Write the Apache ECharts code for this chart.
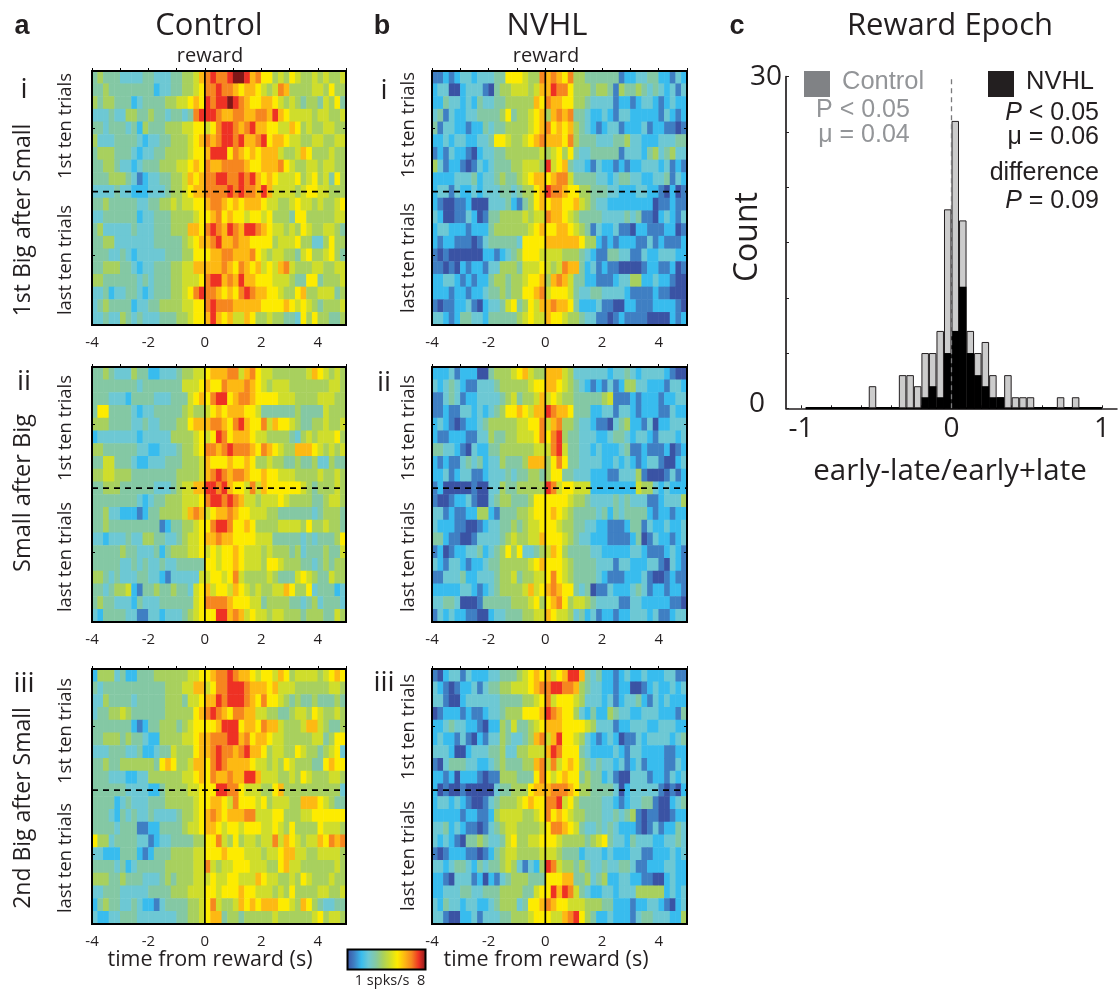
<!DOCTYPE html>
<html><head><meta charset="utf-8"><style>html,body{margin:0;padding:0;background:#fff}#c{width:1118px;height:989px}</style>
<script src="https://cdn.jsdelivr.net/npm/echarts@6/dist/echarts.min.js"></script></head><body><div id="c"></div>
<script>
// Rates per 0.2 s bin, read by eye; one hex-like character per cell (0 = 1 spks/s ... b = 8 spks/s).
const controlBigFirst = [
"45444 33334 43334 45568 9a99a bba89 77565 76556 56556",
"44544 44444 42334 45567 99a99 87887 65698 55556 65755",
"54554 44234 44455 66787 a9aab a9877 88765 65455 46574",
"33343 35544 54434 4349a aa988 99889 98a87 66665 66556",
"44344 43425 44455 56677 679aa 989a8 87766 87565 56655",
"53334 44432 33445 55678 989aa 9a889 a7887 66556 65566",
"45554 44323 34455 55677 8aaa7 98787 88865 56875 55655",
"44554 33234 44555 66787 98899 99877 88897 65566 56655",
"44455 54312 33445 56878 99aa9 9a9a8 78766 67567 56475",
"33334 33222 33345 56788 9999a 9a998 a8666 65677 66555",
"44544 44433 44556 56677 89987 87888 76655 67665 65567",
"33444 44423 34445 55567 78978 77677 67555 47755 55566",
"45333 33433 34445 55887 9a98a 98aa9 87665 65765 56654",
"44553 33333 34444 45678 89a88 98877 77566 67553 35755",
"44433 43233 33344 45577 78899 88897 65665 54675 56754",
"44555 44323 34445 56688 88898 79878 67689 65556 65566",
"55444 44434 34445 56667 9aa89 8a887 77666 54477 45556",
"33423 34432 34445 5679a 99878 79a98 87765 57855 66645",
"34544 44233 44555 56677 9a999 88888 77778 76765 45556",
"33433 54343 33444 55677 8a878 66875 56554 43757 55445"];
const nvhlBigFirst = [
"11212 33233 34477 76559 89879 55444 44412 23344 22132",
"23300 23331 04556 66568 8a997 55545 54154 45434 32313",
"22433 23243 34455 55587 98877 55433 33122 12332 12322",
"34132 23344 44574 55678 58989 44322 32133 22222 13212",
"41332 21224 34455 55678 97878 54321 23312 22312 21101",
"22323 32233 47765 56789 88879 54443 33445 33222 33344",
"12132 21023 34455 55556 56757 43344 44413 33245 34533",
"53122 10132 34445 56665 a6784 33213 22121 22333 23121",
"22223 33423 34544 56788 78996 44443 32344 33223 34132",
"23313 22323 33443 45578 a9987 75544 43322 23322 10201",
"21001 12000 33342 14578 78877 86543 32222 22220 11211",
"32001 13201 44555 56566 98876 54444 33334 34110 23213",
"23322 21222 45555 55678 77887 65413 22311 02211 12201",
"21221 11013 44444 37777 88888 87552 12122 21131 21112",
"10100 00002 21234 57776 66655 54321 14433 11322 33322",
"11010 21221 33555 46667 65698 84231 21100 00122 11201",
"22332 12122 45545 56778 58986 44221 11233 55223 22100",
"22212 21223 44545 57789 67776 43344 33332 11112 11000",
"10112 23102 33467 45768 89887 42223 11002 21112 22210",
"33212 44332 44444 56766 87765 54331 10121 11100 00212"];
const controlSmall = [
"44543 33544 22333 45566 78889 96897 66555 55568 76565",
"44444 44434 44444 46667 87798 88987 65666 55555 55665",
"44433 32444 43334 44678 79aa7 89987 77766 65555 66655",
"47744 44323 34444 45655 67878 88776 44444 45444 46555",
"55544 44334 33444 55788 89987 9a877 96877 65445 56556",
"23333 33323 33335 55567 67a97 88876 65555 43565 66675",
"55444 44433 22333 45567 9989a 99987 98765 58887 65656",
"44664 44322 33344 45556 87778 77875 56554 45445 33544",
"55665 55444 44444 55556 89a98 99877 87766 65555 65565",
"44555 44444 43334 56688 aa9a8 77696 87777 77654 55565",
"44444 44432 34455 56667 9aa9a 98665 66676 55554 45665",
"44533 22212 44555 56898 67889 87766 65544 44443 45554",
"44544 44444 44124 45567 79aa9 77875 55566 66575 56554",
"33233 34335 54433 45667 88988 77776 66444 44343 44457",
"44444 54433 34245 55667 67677 87666 56555 45344 45446",
"44444 33434 33433 44444 77677 87666 57765 55443 45455",
"55434 33344 33213 33336 67767 96555 56544 46765 44655",
"44345 56214 45445 44367 86776 87656 55668 75573 44423",
"45443 33243 33444 44467 99998 77766 45555 44345 34443",
"32444 43311 33233 34567 77aa8 98676 65665 55455 54465"];
const nvhlSmall = [
"22231 22200 45556 78655 88865 33333 32334 32333 32100",
"32343 21133 34555 55677 88765 43212 13125 53322 21332",
"11343 12233 33456 45568 67655 44444 56111 21222 12233",
"11211 33232 34577 87688 a9887 44422 33133 21222 11322",
"23210 12234 55555 66779 68955 43321 10345 22130 22333",
"21122 21133 54455 66679 79a54 43332 23443 23321 33323",
"44332 10322 44555 55566 69a64 43323 22234 11211 12012",
"21211 34342 33544 45888 57974 43333 22323 21233 10023",
"22312 33112 33343 44554 57744 33322 21133 35100 01312",
"12000 00100 33544 55555 a9677 66622 22222 26553 23222",
"10012 23100 34554 44577 77776 55433 33434 33311 23335",
"33121 12255 21444 55677 78765 44443 42434 44421 22122",
"32221 10012 33445 45667 77655 44332 21112 44132 23223",
"44211 00133 33456 55668 77765 43322 21111 24013 22123",
"12012 23342 34575 73345 68754 44433 22222 33211 12321",
"32133 21223 44555 55678 77765 44443 33133 22233 10321",
"11333 42233 34556 45566 79765 44443 21112 22310 01211",
"22222 33212 34555 56867 89877 43401 13222 34312 21221",
"33443 00014 44445 55675 78975 66543 33311 33222 22110",
"13232 21100 23344 45566 87665 34231 22122 33323 11233"];
const controlBigSecond = [
"25553 42244 45555 55667 7899a 98876 77687 56666 56787",
"43444 44444 44455 56688 6799a aa988 87866 65555 55665",
"33544 44344 44455 54667 88a9a aa987 97765 45445 44454",
"34455 65444 44455 55578 9a987 99886 65544 56657 65565",
"44444 44212 44555 45677 778aa a7887 98865 55688 65445",
"44555 45443 22555 56678 8999a a8978 87665 55556 64577",
"33344 43342 23446 55578 89a99 89a88 75665 57655 45673",
"44544 55555 54787 55688 79a98 88876 65657 65554 47877",
"44433 32233 55555 56678 79889 88aa8 66655 65765 55665",
"44444 43333 22455 55667 77aa9 97666 55785 55555 55553",
"44442 34333 44455 55567 78876 97776 75666 55888 76544",
"44432 43433 43333 45567 89878 88996 66775 55667 77777",
"44443 44411 22444 45667 88767 76777 66765 75555 76665",
"75534 44433 12334 44455 77965 75665 66968 76566 87989",
"33222 44421 24445 55566 77787 77666 56678 86655 66665",
"44443 42344 44455 55566 96566 77766 65578 66555 55565",
"55544 54443 33454 55566 67667 76668 76655 65765 55655",
"33444 33333 44445 55666 77677 78776 66565 75555 66556",
"24544 33432 21344 44556 79655 68787 88877 65875 43344",
"32233 44433 33333 44556 78845 54555 55655 55556 75665"];
const nvhlBigSecond = [
"10233 13222 33444 56787 8678a a8434 22123 22322 23311",
"32101 22313 44556 66789 9aa99 85433 22122 00123 22323",
"33100 23333 33444 45567 96777 65333 23123 34213 23222",
"01222 12112 33455 57778 a9877 53242 25433 22333 22214",
"22343 32210 22546 44567 88877 77653 33122 33322 33322",
"23221 31021 33543 34589 68a77 65321 23201 13233 33234",
"33320 02333 44533 55666 8a977 74322 22321 33222 21122",
"10344 43322 34544 45589 69678 75434 33231 23122 21132",
"22120 22210 11555 44479 76787 74544 23100 33312 21323",
"20100 10000 03445 55788 89998 75544 44302 33333 10102",
"23323 21001 34555 67877 99a67 54444 33212 33441 00234",
"22222 12211 25666 65567 97876 55444 33434 51011 00122",
"33423 21101 34566 55556 79987 64334 34322 21013 12243",
"32321 04454 33467 55667 77655 55456 74332 43332 23343",
"10122 21101 24566 55556 66544 42333 23222 33112 22323",
"33234 43243 44565 31325 a9655 45433 43344 31122 23322",
"22103 33120 21345 55444 77788 44534 52233 22110 02322",
"22333 44334 44555 54467 7a8a9 64322 33233 35555 52323",
"32433 23322 34555 34778 98776 66555 44222 12233 21023",
"33100 22313 33445 55677 76689 a7542 23222 13443 33225"];

const timeBins = Array.from({length:45},(_, i)=>(-4+0.2*i).toFixed(1));
const trialRows = Array.from({length:20},(_, i)=>i);
const timeTicks = [-4,-3,-2,-1,0,1,2,3,4,5];
const timeLabels = [-4,-2,0,2,4];

// Histogram: bin centres and counts
const histBins =   [-0.525,-0.325,-0.275,-0.225,-0.175,-0.125,-0.075,-0.025,0.025,0.075,0.125,0.175,0.225,0.275,0.325,0.375,0.425,0.475,0.525,0.725,0.825];
const controlHist = [2,3,3,2,5,5,7,18,26,17,7,5,6,3,1,3,1,1,1,1,1];
const nvhlHist =    [0,0,0,0,1,2,1,5,7,11,5,3,2,1,1,0,0,0,0,0,0];

const palette = ['#3a53a4','#3f7fc3','#38bcee','#6dc8d4','#84c8a4','#a8d05e','#cfdd2c','#fdeb00','#fdb913','#f6861f','#ee3124','#7f1718'];
const ink = '#231f20';
const SANS = '"Open Sans"', HELV = '"Liberation Sans"';

function toCells(rows){
  const out=[];
  rows.forEach((row,r)=>{
    row.replace(/ /g,'').split('').forEach((ch,c)=>{
      out.push([c,r,1+parseInt(ch,16)*7/11]);
    });
  });
  return out;
}

const panels = [
 {rows:controlBigFirst,  left:92,  top:71,  w:254,h:254},
 {rows:nvhlBigFirst,     left:432, top:71,  w:255,h:254},
 {rows:controlSmall,     left:92,  top:367, w:254,h:255},
 {rows:nvhlSmall,        left:432, top:367, w:255,h:255},
 {rows:controlBigSecond, left:92,  top:669, w:254,h:255},
 {rows:nvhlBigSecond,    left:432, top:669, w:255,h:255}
];

const grid=[],xAxis=[],yAxis=[],series=[],heatIdx=[];
panels.forEach((p,g)=>{
  grid.push({left:p.left,top:p.top,width:p.w,height:p.h,show:true,borderColor:'#000',borderWidth:2,backgroundColor:'transparent',z:3});
  const xi=xAxis.length, yi=yAxis.length;
  xAxis.push({type:'category',gridIndex:g,data:timeBins,show:false});
  xAxis.push({type:'value',gridIndex:g,min:-4,max:5,interval:1,position:'bottom',z:5,
    axisLine:{show:false},splitLine:{show:false},
    axisTick:{show:true,inside:true,length:3,lineStyle:{color:'#000',width:1},customValues:timeTicks},
    axisLabel:{show:true,margin:10,fontFamily:SANS,fontSize:15,color:ink,customValues:timeLabels}});
  yAxis.push({type:'category',gridIndex:g,data:trialRows,inverse:true,show:false});
  ['left','right'].forEach(pos=>{
    yAxis.push({type:'value',gridIndex:g,min:0,max:20,inverse:true,position:pos,z:5,
      axisLine:{show:false},splitLine:{show:false},axisLabel:{show:false},
      axisTick:{show:true,inside:true,length:3,lineStyle:{color:'#000',width:1},customValues:[4.5,14.5]}});
  });
  heatIdx.push(series.length);
  series.push({type:'heatmap',xAxisIndex:xi,yAxisIndex:yi,data:toCells(p.rows),z:2,silent:true,progressive:0,animation:false,itemStyle:{borderWidth:0}});
  series.push({type:'line',xAxisIndex:xi+1,yAxisIndex:yi+1,data:[[0,0],[0,20]],showSymbol:false,symbol:'none',z:6,silent:true,animation:false,lineStyle:{color:'#000',width:1.7}});
  series.push({type:'line',xAxisIndex:xi+1,yAxisIndex:yi+1,data:[[-4,9.5],[5,9.5]],showSymbol:false,symbol:'none',z:6,silent:true,animation:false,lineStyle:{color:'#000',width:1.6,type:[6,5]}});
});

// Histogram panel
const hg=grid.length;
grid.push({left:786,top:76.7,width:331,height:331.6,show:false});
const hx=xAxis.length, hy=yAxis.length;
xAxis.push({type:'value',gridIndex:hg,min:-1.1,max:1.1,interval:0.1,position:'bottom',
  axisLine:{show:true,onZero:false,lineStyle:{color:ink,width:1.5}},splitLine:{show:false},
  axisTick:{show:true,inside:true,length:3,lineStyle:{color:ink,width:1},customValues:[-1,-0.8,-0.6,-0.4,-0.2,0,0.2,0.4,0.6,0.8,1]},
  axisLabel:{show:true,margin:7,fontFamily:SANS,fontSize:28,color:ink,customValues:[-1,0,1]}});
yAxis.push({type:'value',gridIndex:hg,min:0,max:30,interval:5,position:'left',
  axisLine:{show:true,onZero:false,lineStyle:{color:ink,width:1.7}},splitLine:{show:false},
  axisTick:{show:true,inside:true,length:3,lineStyle:{color:ink,width:1}},
  axisLabel:{show:true,margin:4,fontFamily:SANS,fontSize:28,color:ink,customValues:[0,30],
    formatter:v=>v===0?'{z|0}':String(v),rich:{z:{fontFamily:SANS,fontSize:28,color:ink,padding:[0,17,9,0]}}}});
series.push({type:'line',xAxisIndex:hx,yAxisIndex:hy,data:[[-0.97,0],[1,0]],symbol:'none',showSymbol:false,z:1,silent:true,animation:false,lineStyle:{color:'#000',width:2.5}});
series.push({type:'bar',name:'Control',xAxisIndex:hx,yAxisIndex:hy,data:histBins.map((b,i)=>[b,controlHist[i]]),barWidth:7.5,barGap:'-100%',animation:false,silent:true,z:2,
  itemStyle:{color:'#cccccc',borderColor:ink,borderWidth:1}});
series.push({type:'bar',name:'NVHL',xAxisIndex:hx,yAxisIndex:hy,data:histBins.map((b,i)=>[b,nvhlHist[i]]),barWidth:7.5,barGap:'-100%',animation:false,silent:true,z:3,
  itemStyle:{color:'#000',borderWidth:0}});
series.push({type:'line',xAxisIndex:hx,yAxisIndex:hy,data:[[0,0],[0,30]],symbol:'none',showSymbol:false,z:5,silent:true,animation:false,lineStyle:{color:'#7a7a7c',width:1.3,type:[5,4]}});

// Text
function T(text,x,y,size,o={}){
  return {type:'text',x,y,rotation:o.rot?Math.PI/2:0,z:20,silent:true,style:{text,x:0,y:0,fontSize:size,fontFamily:o.f||SANS,fontWeight:o.b?'bold':'normal',fill:o.c||ink,
    align:o.a||'center',verticalAlign:'middle',rich:{i:{fontStyle:'italic',fontSize:size,fontFamily:o.f||SANS,fill:o.c||ink}}}};
}
const g=[
 T('a',22,27,27,{b:1,f:HELV}),T('b',382,27,27,{b:1,f:HELV}),T('c',737,27,27,{b:1,f:HELV}),
 T('Control',209,26,31),T('NVHL',547,26,31),T('Reward Epoch',950,26,31),
 T('reward',210,56,20),T('reward',546,56,20),
 T('i',24,90,28),T('ii',24,382,28),T('iii',24,684,28),
 T('i',384,91,28),T('ii',384,383,28),T('iii',384,683,28),
 T('1st Big after Small',23,220,23,{rot:1}),T('Small after Big',23,493,23.5,{rot:1}),T('2nd Big after Small',23,808,23,{rot:1}),
 T('1st ten trials',66,126,18.4,{rot:1}),T('last ten trials',66,260,18.4,{rot:1}),
 T('1st ten trials',66,428,18.4,{rot:1}),T('last ten trials',66,557,18.4,{rot:1}),
 T('1st ten trials',66,731,18.4,{rot:1}),T('last ten trials',66,858,18.4,{rot:1}),
 T('1st ten trials',409,125,18.4,{rot:1}),T('last ten trials',409,258,18.4,{rot:1}),
 T('1st ten trials',409,428,18.4,{rot:1}),T('last ten trials',409,557,18.4,{rot:1}),
 T('1st ten trials',409,727,18.4,{rot:1}),T('last ten trials',409,856,18.4,{rot:1}),
 T('time from reward (s)',210,960,21.5),T('time from reward (s)',546,960,21.5),
 T('1 spks/s  8',390,981,14.5),
 {type:'rect',shape:{x:347.5,y:949.5,width:78,height:20},z:20,silent:true,style:{fill:'none',stroke:'#000',lineWidth:2}},
 T('Count',748,237,32,{rot:1}),T('early-late/early+late',950,472,29.5),
 {type:'rect',shape:{x:804,y:71,width:26,height:26},z:20,silent:true,style:{fill:'#808285'}},
 {type:'rect',shape:{x:988,y:71,width:26,height:26},z:20,silent:true,style:{fill:ink}},
 T('Control',842,82,25.5,{f:HELV,c:'#939598',a:'left'}),
 T('P < 0.05',863,110,25,{f:HELV,c:'#939598'}),T('μ = 0.04',864,135,25,{f:HELV,c:'#939598'}),
 T('NVHL',1026,82,25.5,{f:HELV,a:'left'}),
 T('{i|P} < 0.05',1099,113,25,{f:HELV,a:'right'}),T('μ = 0.06',1099,137,25,{f:HELV,a:'right'}),
 T('difference',1099,173,25,{f:HELV,a:'right'}),T('{i|P} = 0.09',1099,201,25,{f:HELV,a:'right'})
];

const chart=echarts.init(document.getElementById('c'),null,{renderer:'canvas'});
chart.setOption({animation:false,backgroundColor:'#fff',grid,xAxis,yAxis,series,graphic:{elements:g},
  visualMap:{type:'continuous',min:1,max:8,seriesIndex:heatIdx,orient:'horizontal',left:347,top:949,itemWidth:21,itemHeight:79,
    calculable:false,hoverLink:false,realtime:false,padding:0,text:null,showLabel:false,inRange:{color:palette}},
  tooltip:{show:false}});
</script></body></html>
